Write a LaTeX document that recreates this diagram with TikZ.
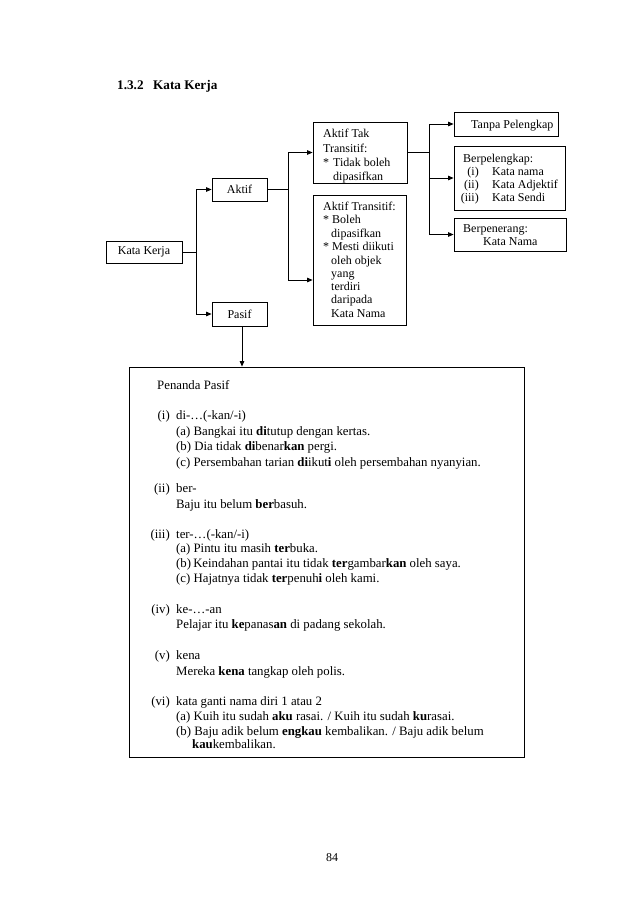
\documentclass[tikz,border=0pt]{standalone}
\usepackage{fontspec}
\setmainfont{Liberation Serif}
\usetikzlibrary{arrows.meta}
\newcommand\tf{\fontsize{12}{13.5}\selectfont}
\newcommand\bbf{\fontsize{12.8}{15}\selectfont}
\begin{document}
\begin{tikzpicture}[x=1pt,y=-1pt,
  box/.style={draw, line width=0.8pt, inner sep=0pt, font=\tf},
  conn/.style={line width=0.8pt},
  arr/.style={line width=0.8pt, -{Triangle[length=5.5pt,width=4.5pt]}},
  tl/.style={anchor=base west, inner sep=0pt, font=\tf},
  tr/.style={anchor=base east, inner sep=0pt, font=\tf},
  bl/.style={anchor=base west, inner sep=0pt, font=\bbf},
  br/.style={anchor=base east, inner sep=0pt, font=\bbf}]
\useasboundingbox[fill=white] (0,0) rectangle (638,903);
% title
\node[tl,font=\fontsize{13.2}{15}\selectfont\bfseries] (t1) at (117,89) {1.3.2};
\node[tl,font=\fontsize{13.2}{15}\selectfont\bfseries] (t2) at (153,89) {Kata Kerja};
% boxes
\node[box, minimum width=76pt, minimum height=22pt] (KK) at (144,252) {Kata Kerja};
\node[box, minimum width=55pt, minimum height=23pt] (Aktif) at (239.5,189.5) {Aktif};
\node[box, minimum width=55pt, minimum height=24pt] (Pasif) at (239.5,314) {Pasif};
\node[box, minimum width=94pt, minimum height=61pt] (ATT) at (360,152.5) {};
\node[box, minimum width=93pt, minimum height=130pt] (AT) at (359.5,260) {};
\node[box, minimum width=104pt, minimum height=24pt] (TP) at (506,124) {};
\node[box, minimum width=111pt, minimum height=64pt] (BP) at (509.5,178) {};
\node[box, minimum width=112pt, minimum height=33pt] (BN) at (510,234.5) {};
\node[box, minimum width=395pt, minimum height=390pt] (BB) at (326.5,562) {};
% box texts
\node[tl] (tp1) at (471,128) {Tanpa Pelengkap};
\node[tl] (a1) at (323,137) {Aktif Tak};
\node[tl] (a2) at (323,152) {Transitif:};
\node[tl] (a3) at (323,166) {*};
\node[tl] (a4) at (333,166) {Tidak boleh};
\node[tl] (a5) at (333,180) {dipasifkan};
\node[tl] (b1) at (323,210) {Aktif Transitif:};
\node[tl] (b2) at (323,223) {*};
\node[tl] (b3) at (332,223) {Boleh};
\node[tl] (b4) at (331,237) {dipasifkan};
\node[tl] (b5) at (323,250) {*};
\node[tl] (b6) at (332,250) {Mesti diikuti};
\node[tl] (b7) at (331,264) {oleh objek};
\node[tl] (b8) at (331,277) {yang};
\node[tl] (b9) at (331,290) {terdiri};
\node[tl] (b10) at (331,303) {daripada};
\node[tl] (b11) at (331,317) {Kata Nama};
\node[tl] (c1) at (463,162) {Berpelengkap:};
\node[tr] (c2) at (479,175) {(i)};
\node[tl] (c3) at (492,175) {Kata nama};
\node[tr] (c4) at (479,188) {(ii)};
\node[tl] (c5) at (492,188) {Kata Adjektif};
\node[tr] (c6) at (479,201) {(iii)};
\node[tl] (c7) at (492,201) {Kata Sendi};
\node[tl] (d1) at (463,232) {Berpenerang:};
\node[tl] (d2) at (483,245) {Kata Nama};
% connectors
\draw[conn] (KK.east) -- (196,252) coordinate (j1);
\draw[arr] (j1) |- (Aktif.west);
\draw[arr] (j1) |- (Pasif.west);
\draw[conn] (Aktif.east) -- (288,189.5) coordinate (j2);
\draw[arr] (j2) |- (ATT.west);
\draw[arr] (j2) |- ([yshift=-20pt]AT.west);
\draw[conn] (ATT.east) -- (429,152.5) coordinate (j3);
\draw[arr] (j3) |- (TP.west);
\draw[arr] (j3) |- (BP.west);
\draw[arr] (j3) |- (BN.west);
\draw[arr] ([xshift=2.5pt]Pasif.south) -- ([xshift=2.5pt]Pasif.south |- BB.north);
% big box text
\node[bl] (p0) at (157,389) {Penanda Pasif};
\node[br] (n1) at (170,419) {(i)};
\node[bl] (p1) at (176,419) {di-…(-kan/-i)};
\node[bl] (p2) at (176,435) {(a)~Bangkai itu \textbf{di}tutup dengan kertas.};
\node[bl] (p3) at (176,450) {(b)~Dia tidak \textbf{di}benar\textbf{kan} pergi.};
\node[bl] (p4) at (176,466) {(c)~Persembahan tarian \textbf{di}ikut\textbf{i} oleh persembahan nyanyian.};
\node[br] (n2) at (170,492) {(ii)};
\node[bl] (p5) at (176,492) {ber-};
\node[bl] (p6) at (176,508) {Baju itu belum \textbf{ber}basuh.};
\node[br] (n3) at (170,538) {(iii)};
\node[bl] (p7) at (176,538) {ter-…(-kan/-i)};
\node[bl] (p8) at (176,552) {(a)~Pintu itu masih \textbf{ter}buka.};
\node[bl] (p9) at (176,567) {(b)\,Keindahan pantai itu tidak \textbf{ter}gambar\textbf{kan} oleh saya.};
\node[bl] (p10) at (176,582) {(c)~Hajatnya tidak \textbf{ter}penuh\textbf{i} oleh kami.};
\node[br] (n4) at (170,613) {(iv)};
\node[bl] (p11) at (176,613) {ke-…-an};
\node[bl] (p12) at (176,628) {Pelajar itu \textbf{ke}panas\textbf{an} di padang sekolah.};
\node[br] (n5) at (170,659) {(v)};
\node[bl] (p13) at (176,659) {kena};
\node[bl] (p14) at (176,675) {Mereka \textbf{kena} tangkap oleh polis.};
\node[br] (n6) at (170,705) {(vi)};
\node[bl] (p15) at (176,705) {kata ganti nama diri 1 atau 2};
\node[bl] (p16) at (176,720) {(a)~Kuih itu sudah \textbf{aku} rasai. / Kuih itu sudah \textbf{ku}rasai.};
\node[bl] (p17) at (176,735) {(b)~Baju adik belum \textbf{engkau} kembalikan. / Baju adik belum};
\node[bl] (p18) at (192,748) {\textbf{kau}kembalikan.};
% page number
\node[anchor=base, inner sep=0pt, font=\tf] (pg) at (332,861) {84};
\end{tikzpicture}
\end{document}
